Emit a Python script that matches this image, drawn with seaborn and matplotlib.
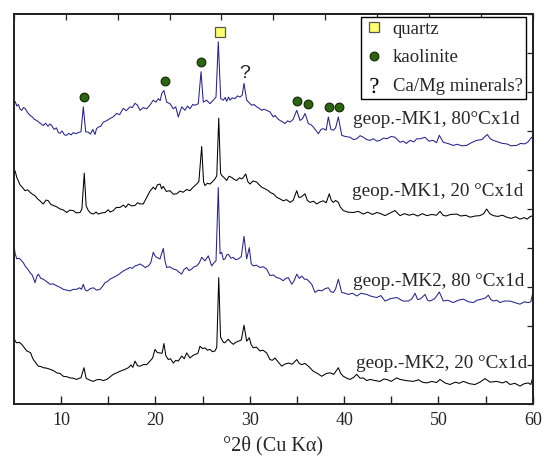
import numpy as np
import pandas as pd
import matplotlib
matplotlib.use("Agg")
import matplotlib.pyplot as plt
import seaborn as sns
from matplotlib.lines import Line2D

# ---------------- data (2-theta [deg], intensity [a.u., stacked]) ----------------
samples = ["geop.-MK1, 80°Cx1d", "geop.-MK1, 20 °Cx1d",
           "geop.-MK2, 80 °Cx1d", "geop.-MK2, 20 °Cx1d"]

mk1_80 = [(5.00,7.74),(5.11,7.76),(5.30,7.64),(5.46,7.68),(5.64,7.56),(5.82,7.53),(6.00,7.60),(6.17,7.58),
          (6.45,7.47),(6.70,7.40),(6.95,7.36),(7.15,7.30),(7.41,7.27),(7.65,7.22),(7.90,7.18),(8.11,7.14),
          (8.35,7.20),(8.60,7.12),(8.80,7.18),(9.00,7.14),(9.25,7.04),(9.50,7.08),(9.70,6.96),(9.88,6.94),
          (10.10,7.00),(10.35,6.90),(10.59,6.89),(10.80,6.94),(11.05,6.90),(11.29,6.96),(11.55,6.93),(11.82,6.96),
          (12.10,6.98),(12.35,7.62),(12.60,6.98),(12.88,6.97),(13.10,6.92),(13.35,7.04),(13.59,6.91),(13.75,7.06),
          (13.94,7.10),(14.20,7.12),(14.47,7.23),(14.80,7.26),(15.18,7.32),(15.50,7.36),(15.89,7.45),(16.20,7.42),
          (16.59,7.58),(16.90,7.52),(17.30,7.62),(17.55,7.60),(17.83,7.71),(18.10,7.66),(18.36,7.53),(18.70,7.60),
          (19.07,7.57),(19.40,7.66),(19.77,7.79),(20.05,7.74),(20.30,7.83),(20.50,7.78),(20.66,7.96),(20.90,8.04),
          (21.19,7.74),(21.54,7.70),(21.89,7.57),(22.15,7.62),(22.42,7.36),(22.78,7.62),(23.13,7.53),(23.40,7.64),
          (23.66,7.57),(23.95,7.68),(24.19,7.66),(24.54,7.70),(24.83,8.52),(25.07,7.74),(25.43,7.79),(25.78,7.70),
          (26.13,7.79),(26.42,7.87),(26.66,9.29),(26.92,7.83),(27.19,7.79),(27.40,7.86),(27.55,7.76),(27.75,7.87),
          (27.90,7.79),(28.15,7.85),(28.43,7.83),(28.70,7.90),(28.96,7.87),(29.20,7.92),(29.39,8.22),(29.67,7.79),
          (29.95,7.72),(30.20,7.66),(30.45,7.68),(30.73,7.62),(31.00,7.58),(31.26,7.53),(31.50,7.56),(31.79,7.53),
          (32.14,7.49),(32.49,7.36),(32.67,7.40),(32.95,7.32),(33.20,7.27),(33.45,7.24),(33.74,7.19),(34.00,7.26),
          (34.27,7.23),(34.60,7.30),(34.98,7.53),(35.33,7.27),(35.60,7.32),(35.86,7.45),(36.21,7.19),(36.50,7.16),
          (36.74,7.10),(37.00,7.02),(37.27,6.93),(37.55,7.04),(37.80,7.06),(38.10,7.02),(38.33,7.36),(38.60,7.04),
          (38.86,7.02),(39.10,7.08),(39.39,7.36),(39.75,6.89),(40.10,6.86),(40.63,6.84),(41.00,6.78),(41.34,6.80),
          (41.70,6.88),(42.04,6.84),(42.40,6.78),(42.75,6.76),(43.10,6.80),(43.50,6.74),(43.81,6.76),(44.20,6.82),
          (44.52,6.80),(45.00,6.86),(45.40,6.84),(45.93,6.71),(46.28,6.74),(46.60,6.68),(46.99,6.76),(47.40,6.72),
          (47.70,6.80),(48.05,6.80),(48.58,6.84),(49.00,6.74),(49.46,6.76),(49.80,6.70),(50.10,6.89),(50.52,6.71),
          (51.00,6.68),(51.58,6.63),(52.00,6.66),(52.50,6.62),(52.99,6.63),(53.50,6.70),(54.06,6.76),(54.60,6.78),
          (55.18,6.91),(55.50,6.80),(55.82,6.76),(56.30,6.72),(56.80,6.68),(57.24,6.67),(57.70,6.62),(58.30,6.63),
          (58.70,6.68),(59.18,6.67),(59.50,6.72),(59.89,6.84),(60.00,6.80)]

mk1_20 = [(5.00,6.03),(5.15,5.95),(5.29,5.81),(5.45,5.72),(5.64,5.62),(5.90,5.55),(6.17,5.47),(6.45,5.49),
          (6.70,5.43),(6.95,5.38),(7.23,5.34),(7.50,5.26),(7.76,5.21),(7.95,5.16),(8.11,5.13),(8.40,5.23),
          (8.64,5.21),(8.90,5.12),(9.17,5.09),(9.50,5.06),(9.88,5.00),(10.20,4.98),(10.59,4.91),(10.90,4.97),
          (11.29,4.96),(11.60,4.90),(12.00,4.91),(12.20,5.00),(12.45,5.92),(12.65,5.08),(12.88,4.96),(13.10,4.90),
          (13.41,4.87),(13.70,4.92),(13.94,4.87),(14.30,4.90),(14.65,4.91),(15.00,4.98),(15.20,4.92),(15.53,4.96),
          (15.85,5.04),(16.24,5.04),(16.60,5.10),(16.85,5.04),(17.12,5.13),(17.45,5.08),(17.83,5.09),(18.10,5.16),
          (18.36,5.13),(18.71,5.13),(19.07,5.30),(19.40,5.45),(19.77,5.56),(20.00,5.50),(20.20,5.62),(20.48,5.64),
          (20.65,5.52),(20.83,5.58),(21.15,5.45),(21.54,5.47),(21.89,5.38),(22.25,5.39),(22.60,5.46),(22.95,5.43),
          (23.30,5.50),(23.66,5.47),(24.00,5.56),(24.37,5.64),(24.60,5.70),(24.90,6.60),(25.10,5.70),(25.25,5.60),
          (25.50,5.66),(25.78,5.64),(26.05,5.70),(26.31,5.77),(26.50,5.85),(26.71,7.33),(26.90,5.92),(27.02,5.86),
          (27.30,5.80),(27.55,5.73),(27.80,5.84),(28.08,5.81),(28.35,5.76),(28.61,5.73),(28.90,5.80),(29.14,5.77),
          (29.35,5.82),(29.57,5.90),(29.80,5.70),(30.02,5.64),(30.35,5.72),(30.73,5.69),(31.00,5.62),(31.26,5.56),
          (31.60,5.52),(31.96,5.47),(32.20,5.42),(32.49,5.39),(32.86,5.30),(33.20,5.26),(33.55,5.21),(33.90,5.24),
          (34.27,5.17),(34.60,5.22),(34.98,5.47),(35.20,5.30),(35.40,5.30),(35.86,5.39),(36.10,5.22),(36.39,5.17),
          (36.75,5.20),(37.10,5.13),(37.45,5.18),(37.80,5.21),(38.10,5.16),(38.43,5.39),(38.65,5.22),(38.86,5.17),
          (39.10,5.22),(39.39,5.17),(39.60,5.05),(39.92,4.96),(40.40,4.92),(40.98,4.91),(41.50,4.94),(42.04,4.87),
          (42.50,4.92),(43.00,4.86),(43.46,4.91),(43.90,4.88),(44.34,4.83),(44.90,4.90),(45.40,4.96),(45.93,4.83),
          (46.40,4.88),(46.90,4.84),(47.34,4.87),(47.80,4.82),(48.30,4.88),(48.76,4.83),(49.30,4.86),(49.80,4.84),
          (50.17,4.94),(50.50,4.84),(50.80,4.82),(51.30,4.86),(51.94,4.87),(52.40,4.82),(52.90,4.84),(53.35,4.79),
          (53.90,4.82),(54.41,4.83),(54.80,4.88),(55.12,5.00),(55.45,4.88),(55.82,4.83),(56.30,4.81),(56.80,4.84),
          (57.24,4.79),(57.70,4.76),(58.20,4.80),(58.65,4.74),(59.10,4.78),(59.40,4.74),(59.71,4.80),(60.00,4.83)]

mk2_80 = [(5.00,4.06),(5.12,3.86),(5.29,3.72),(5.55,3.74),(5.82,3.67),(6.00,3.62),(6.17,3.54),(6.45,3.46),
          (6.70,3.37),(6.95,3.30),(7.23,3.11),(7.40,3.26),(7.58,3.33),(7.85,3.22),(8.11,3.20),(8.45,3.14),
          (8.82,3.07),(9.15,3.08),(9.53,3.03),(9.90,2.99),(10.23,2.94),(10.60,2.92),(10.94,2.90),(11.30,2.94),
          (11.65,2.94),(11.95,2.98),(12.15,2.94),(12.35,3.07),(12.55,2.92),(12.77,2.90),(13.10,2.96),(13.41,2.98),
          (13.75,2.92),(14.12,2.94),(14.40,3.02),(14.65,3.11),(14.90,3.14),(15.18,3.20),(15.50,3.24),(15.89,3.29),
          (16.20,3.34),(16.59,3.41),(16.90,3.45),(17.30,3.50),(17.55,3.48),(17.83,3.54),(18.10,3.56),(18.36,3.59),
          (18.71,3.54),(18.89,3.50),(19.24,3.54),(19.50,3.62),(19.77,3.89),(19.95,3.80),(20.13,3.76),(20.48,3.72),
          (20.83,3.99),(21.00,3.68),(21.19,3.50),(21.50,3.52),(21.89,3.46),(22.20,3.44),(22.50,3.38),(22.78,3.33),
          (23.00,3.44),(23.31,3.50),(23.55,3.42),(23.84,3.46),(24.10,3.52),(24.37,3.54),(24.65,3.62),(24.90,3.76),
          (25.25,3.67),(25.60,3.80),(25.96,3.54),(26.20,3.62),(26.42,3.67),(26.66,5.55),(26.85,3.85),(27.02,3.89),
          (27.20,3.70),(27.37,3.72),(27.55,3.82),(27.72,3.84),(28.00,3.74),(28.25,3.76),(28.50,3.70),(28.78,3.72),
          (29.10,3.78),(29.39,4.30),(29.67,3.72),(29.95,4.01),(30.15,3.60),(30.37,3.54),(30.70,3.56),(31.08,3.50),
          (31.40,3.52),(31.79,3.46),(32.14,3.29),(32.49,3.31),(32.86,3.24),(33.20,3.22),(33.55,3.16),(33.80,3.22),
          (34.09,3.24),(34.45,3.07),(34.70,3.16),(34.98,3.33),(35.25,3.22),(35.51,3.28),(35.80,3.20),(36.04,3.20),
          (36.30,3.14),(36.57,3.07),(36.92,2.86),(37.25,2.92),(37.63,2.90),(38.00,2.96),(38.33,2.98),(38.60,2.88),
          (38.86,2.86),(39.10,2.95),(39.39,3.20),(39.75,2.86),(40.10,2.84),(40.45,2.81),(40.90,2.84),(41.34,2.77),
          (41.80,2.84),(42.40,2.81),(42.90,2.76),(43.46,2.73),(43.90,2.78),(44.34,2.64),(44.90,2.70),(45.58,2.73),
          (45.95,2.68),(46.28,2.64),(46.81,2.64),(47.20,2.70),(47.52,2.84),(47.80,2.68),(48.05,2.69),(48.30,2.74),
          (48.58,2.81),(48.85,2.66),(49.11,2.64),(49.60,2.70),(50.10,2.87),(50.52,2.64),(51.00,2.66),(51.58,2.60),
          (52.10,2.66),(52.64,2.69),(53.20,2.62),(53.70,2.60),(54.10,2.66),(54.59,2.69),(55.00,2.72),(55.29,2.79),
          (55.55,2.68),(55.82,2.64),(56.20,2.66),(56.53,2.60),(57.00,2.64),(57.59,2.64),(58.10,2.60),(58.65,2.56),
          (59.10,2.62),(59.53,2.60),(59.80,2.62),(60.00,2.84)]

mk2_20 = [(5.00,1.70),(5.15,1.60),(5.29,1.57),(5.55,1.58),(5.82,1.53),(6.10,1.44),(6.35,1.36),(6.55,1.34),
          (6.77,1.31),(6.90,1.22),(7.05,1.14),(7.30,1.06),(7.58,0.97),(7.85,0.96),(8.11,0.93),(8.45,0.92),
          (8.82,0.89),(9.15,0.86),(9.53,0.80),(9.90,0.78),(10.23,0.71),(10.60,0.70),(10.94,0.67),(11.30,0.66),
          (11.65,0.63),(11.90,0.66),(12.10,0.67),(12.42,0.93),(12.65,0.66),(12.88,0.63),(13.15,0.60),(13.41,0.58),
          (13.75,0.62),(14.12,0.63),(14.45,0.60),(14.83,0.63),(15.20,0.70),(15.53,0.76),(15.90,0.80),(16.24,0.84),
          (16.70,0.88),(17.12,0.93),(17.40,1.00),(17.60,0.94),(17.83,1.10),(18.10,0.98),(18.36,0.97),(18.71,1.01),
          (19.07,1.01),(19.42,1.10),(19.70,1.18),(19.95,1.40),(20.20,1.32),(20.48,1.31),(20.70,1.30),(20.90,1.55),
          (21.10,1.24),(21.36,1.14),(21.60,1.16),(21.89,1.05),(22.15,1.12),(22.42,1.10),(22.78,1.23),(23.05,1.16),
          (23.31,1.31),(23.66,1.18),(23.95,1.24),(24.19,1.27),(24.50,1.30),(24.72,1.48),(25.00,1.42),(25.25,1.44),
          (25.50,1.38),(25.78,1.40),(26.05,1.34),(26.31,1.36),(26.50,1.45),(26.71,3.24),(26.90,1.72),(27.02,1.66),
          (27.20,1.58),(27.37,1.57),(27.55,1.62),(27.72,1.66),(28.00,1.58),(28.25,1.53),(28.50,1.58),(28.78,1.61),
          (29.10,1.64),(29.39,2.02),(29.67,1.61),(29.95,1.70),(30.15,1.52),(30.37,1.44),(30.70,1.46),(31.08,1.36),
          (31.40,1.38),(31.79,1.31),(32.14,1.14),(32.40,1.12),(32.67,1.18),(33.00,1.08),(33.39,0.97),(33.70,1.02),
          (34.09,1.05),(34.50,1.02),(34.98,1.14),(35.25,1.04),(35.51,1.01),(35.85,1.04),(36.21,0.97),(36.50,0.90),
          (36.74,0.84),(37.20,0.78),(37.63,0.71),(38.10,0.78),(38.51,0.80),(38.90,0.76),(39.39,0.93),(39.65,0.78),
          (39.92,0.71),(40.30,0.66),(40.63,0.63),(41.00,0.68),(41.34,0.76),(41.70,0.66),(42.04,0.67),(42.40,0.60),
          (42.75,0.63),(43.30,0.60),(43.81,0.58),(44.20,0.64),(44.52,0.63),(45.00,0.58),(45.58,0.67),(45.93,0.63),
          (46.60,0.60),(47.34,0.58),(47.90,0.62),(48.30,0.56),(48.76,0.54),(49.30,0.58),(49.80,0.55),(50.17,0.63),
          (50.70,0.54),(51.23,0.50),(51.80,0.56),(52.20,0.53),(52.64,0.58),(53.30,0.52),(53.88,0.50),(54.40,0.56),
          (54.94,0.65),(55.50,0.56),(56.18,0.58),(56.80,0.54),(57.20,0.58),(57.59,0.50),(58.10,0.53),(58.65,0.46),
          (59.10,0.52),(59.53,0.54),(59.80,0.50),(60.00,0.67)]

# phase reflections marked on the top pattern
quartz_2t = [26.85]
kaolinite_2t = [12.45, 21.0, 24.85, 35.05, 36.2, 38.4, 39.45]
camg_2t = [29.45]

legend_labels = ["quartz", "kaolinite", "Ca/Mg minerals?"]
label_pos_2t = [40.95, 40.80, 40.98, 41.26]
label_pos_i = [7.19, 5.34, 3.03, 0.93]
xticks = [10, 20, 30, 40, 50, 60]

# ---------------- styling ----------------
sns.set_style("ticks")
plt.rcParams["font.family"] = ["Liberation Serif", "DejaVu Serif"]
plt.rcParams["mathtext.fontset"] = "custom"
plt.rcParams["mathtext.rm"] = "Liberation Serif"
plt.rcParams["mathtext.it"] = "Liberation Serif:italic"

BLUE = "#26238c"
colors = [BLUE, "black", BLUE, "black"]

frames = []
for name, pts in zip(samples, [mk1_80, mk1_20, mk2_80, mk2_20]):
    arr = np.array(pts)
    frames.append(pd.DataFrame({"tt": arr[:, 0], "I": arr[:, 1], "sample": name}))
df = pd.concat(frames, ignore_index=True)

fig = plt.figure(figsize=(5.44, 4.62), dpi=100)
ax = fig.add_axes([14 / 544, (462 - 404) / 462, 518.7 / 544, 390 / 462])

sns.lineplot(data=df, x="tt", y="I", hue="sample", hue_order=samples,
             palette=dict(zip(samples, colors)), estimator=None, sort=False,
             legend=False, linewidth=0.75, ax=ax)

ax.set_xlim(5, 60)
ax.set_ylim(0, 10)
ax.set_xticks(xticks)
ax.set_xticks(np.arange(15, 60, 10), minor=True)
ax.tick_params(axis="x", which="both", direction="in", length=6, width=1.0,
               labelsize=13, pad=6, color="#222222")
ax.set_yticks([])
ax.set_ylabel("")
ax.set_xlabel("°2θ (Cu Kα)", fontsize=14.5, labelpad=5)
for sp in ax.spines.values():
    sp.set_visible(True)
    sp.set_linewidth(1.4)
    sp.set_color("#222222")

top = ax.secondary_xaxis("top")
top.set_xticks(np.linspace(5, 60, 11))
top.set_xticklabels([])
top.tick_params(direction="in", length=4, width=0.9, color="#222222")
top.spines["top"].set_linewidth(1.4)
right = ax.secondary_yaxis("right")
right.set_yticks(np.arange(0, 11, 1))
right.set_yticklabels([])
right.tick_params(direction="in", length=4, width=0.9, color="#222222")
right.spines["right"].set_linewidth(1.4)

# phase markers above the top pattern
a1 = np.array(mk1_80)
def peak_top(t, half=0.35, gap=0.25):
    m = (a1[:, 0] >= t - half) & (a1[:, 0] <= t + half)
    return a1[m, 1].max() + gap

ax.plot(quartz_2t, [peak_top(t) for t in quartz_2t], ls="none", marker="s",
        ms=6.5, mfc="#ffff70", mec="#555555", mew=0.9)
ax.plot(kaolinite_2t, [peak_top(t) for t in kaolinite_2t], ls="none", marker="o",
        ms=6.3, mfc="#2d6410", mec="#102800", mew=0.8)
for t in camg_2t:
    ax.text(t, peak_top(t), "?", ha="center", va="center", fontsize=14,
            family="Liberation Sans")

for name, x, y in zip(samples, label_pos_2t, label_pos_i):
    ax.text(x, y, name, fontsize=13.8, ha="left", va="baseline")

handles = [
    Line2D([], [], ls="none", marker="s", ms=6.5, mfc="#ffff70", mec="#555555", mew=0.9),
    Line2D([], [], ls="none", marker="o", ms=6.3, mfc="#2d6410", mec="#102800", mew=0.8),
    Line2D([], [], ls="none", marker=r"$\mathrm{?}$", ms=11, color="black", mew=0),
]
leg = ax.legend(handles, legend_labels, loc="upper right", bbox_to_anchor=(0.988, 0.993),
                fontsize=13.5, frameon=True, fancybox=False, edgecolor="black",
                framealpha=1, handlelength=1.0, handletextpad=0.5,
                labelspacing=0.62, borderpad=0.2, borderaxespad=0)
leg.get_frame().set_linewidth(1.0)

fig.savefig("out.png", dpi=100)
